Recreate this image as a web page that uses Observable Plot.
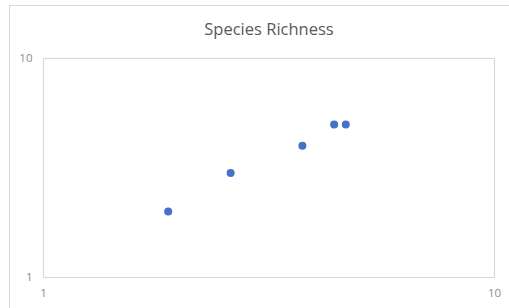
<!DOCTYPE html>
<html><head><meta charset="utf-8">
<script src="https://cdn.jsdelivr.net/npm/d3@7"></script>
<script src="https://cdn.jsdelivr.net/npm/@observablehq/plot@0.6"></script>
<style>
html,body{margin:0;padding:0;background:#fff;}
#wrap{position:relative;width:509px;height:308px;overflow:hidden;}
#border{position:absolute;left:9px;top:5px;width:520px;height:320px;border:1px solid #d9d9d9;box-sizing:border-box;}
#chart{position:absolute;left:0;top:0;}
</style></head>
<body><div id="wrap"><div id="border"></div><div id="chart"></div></div>
<script>
const title = "Species Richness";
const xValues = [1.89, 2.60, 3.75, 4.41, 4.68];
const yValues = [2, 3, 4, 5, 5];
const xTicks = [1, 10];
const yTicks = [1, 10];

const data = xValues.map((x, i) => ({x, y: yValues[i]}));
const font = "'Open Sans', sans-serif";

const chart = Plot.plot({
  width: 509, height: 308,
  marginLeft: 43, marginRight: 15, marginTop: 58, marginBottom: 31,
  style: {fontFamily: font, background: "transparent", overflow: "visible"},
  x: {type: "log", domain: [1, 10]},
  y: {type: "log", domain: [1, 10]},
  marks: [
    Plot.frame({stroke: "#d9d9d9", strokeWidth: 1.2}),
    Plot.axisX({ticks: xTicks, tickSize: 0, tickPadding: 11, tickFormat: d => String(d), fontSize: 11.5, color: "#8c8c8c", label: null}),
    Plot.axisY({ticks: yTicks, tickSize: 0, tickPadding: 11, tickFormat: d => String(d), fontSize: 11.5, color: "#8c8c8c", label: null}),
    Plot.dot(data, {x: "x", y: "y", r: 4, fill: "#4472c4", stroke: "none"}),
    Plot.text([title], {frameAnchor: "top", dy: -35, text: d => d, fontSize: 16.5, fill: "#595959", fontFamily: font})
  ]
});
document.getElementById("chart").appendChild(chart);
</script></body></html>
